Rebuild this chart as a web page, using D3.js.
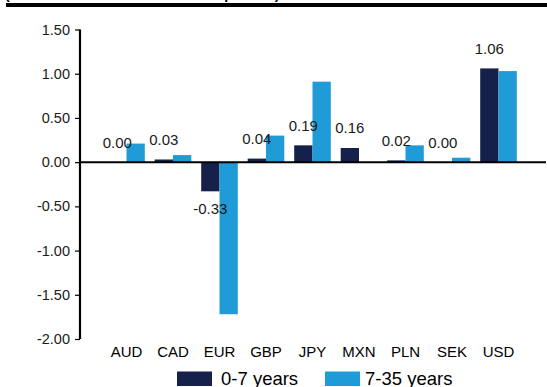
<!DOCTYPE html>
<html>
<head>
<meta charset="utf-8">
<script src="https://cdn.jsdelivr.net/npm/d3@7"></script>
<style>
  html, body { margin: 0; padding: 0; background: #fff; }
  svg { display: block; font-family: "Liberation Sans", Arial, sans-serif; }
</style>
</head>
<body>
<svg id="chart" width="547" height="387"></svg>
<script>
// Currency contributions, two maturity buckets
const currencies = ["AUD", "CAD", "EUR", "GBP", "JPY", "MXN", "PLN", "SEK", "USD"];
const shortBucket = [0.00, 0.03, -0.33, 0.04, 0.19, 0.16, 0.02, 0.00, 1.06];
const longBucket  = [0.21, 0.08, -1.72, 0.30, 0.91, 0.00, 0.19, 0.05, 1.03];
const seriesNames = ["0-7 years", "7-35 years"];
const yTicks = [1.5, 1.0, 0.5, 0.0, -0.5, -1.0, -1.5, -2.0];

const colors = ["#15214b", "#1f9bd7"];

// two decimals, plain hyphen for negatives
const fmt = v => d3.format(".2f")(v).replace("\u2212", "-");

const svg = d3.select("#chart");

// Header rule with the subtitle sitting above the top edge
svg.append("text")
  .attr("x", 5).attr("y", -1.5)
  .attr("font-size", 14).attr("font-weight", "bold")
  .attr("fill", "#000")
  .text("(Contribution to total duration in percent)");
svg.append("rect")
  .attr("x", 6).attr("y", 3).attr("width", 541).attr("height", 4)
  .attr("fill", "#000");

const y = d3.scaleLinear().domain([-2, 1.5]).range([339, 29.5]);
const x = d3.scalePoint().domain(currencies).range([80, 545]).padding(1);
const barW = 18.3;

// Y axis
const yAxis = d3.axisLeft(y)
  .tickValues(yTicks)
  .tickSize(5)
  .tickPadding(5)
  .tickFormat(fmt);
const gy = svg.append("g").attr("transform", "translate(80,0)").call(yAxis);
gy.select(".domain").attr("stroke", "#000").attr("stroke-width", 2.2)
  .attr("d", `M0,${y(1.5)}V${y(-2)}`);
gy.selectAll(".tick line").attr("stroke", "#000").attr("stroke-width", 1.2);
gy.selectAll(".tick text")
  .attr("font-size", 14.5)
  .attr("fill", "#1a1a1a")
  .attr("font-family", "Liberation Sans, Arial, sans-serif");

// Bars
const rows = currencies.map((c, i) => ({ c, vals: [shortBucket[i], longBucket[i]] }));
const g = svg.append("g");
rows.forEach(r => {
  r.vals.forEach((v, k) => {
    if (v === 0) return;
    const x0 = x(r.c) + (k === 0 ? -barW : 0);
    g.append("rect")
      .attr("x", x0)
      .attr("y", Math.min(y(v), y(0)))
      .attr("width", barW)
      .attr("height", Math.abs(y(v) - y(0)))
      .attr("fill", colors[k]);
  });
});

// Zero line
svg.append("line")
  .attr("x1", 80).attr("x2", 546)
  .attr("y1", y(0)).attr("y2", y(0))
  .attr("stroke", "#000").attr("stroke-width", 2);

// Value labels for the short bucket
rows.forEach(r => {
  const v = r.vals[0];
  const cx = x(r.c) - barW / 2;
  svg.append("text")
    .attr("x", cx)
    .attr("y", v >= 0 ? y(v) - 14.5 : y(v) + 23)
    .attr("text-anchor", "middle")
    .attr("font-size", 15)
    .attr("fill", "#1a1a1a")
    .text(fmt(v));
});

// Category labels
currencies.forEach(c => {
  svg.append("text")
    .attr("x", x(c))
    .attr("y", 356.5)
    .attr("text-anchor", "middle")
    .attr("font-size", 15)
    .attr("fill", "#000")
    .text(c);
});

// Legend
const legendX = [177, 325];
seriesNames.forEach((name, k) => {
  svg.append("rect")
    .attr("x", legendX[k]).attr("y", 371.5)
    .attr("width", 35).attr("height", 14.5)
    .attr("fill", colors[k]);
  svg.append("text")
    .attr("x", legendX[k] + 44 - (k === 1 ? 4 : 0))
    .attr("y", 385)
    .attr("font-size", 18.5)
    .attr("fill", "#000")
    .text(name);
});
</script>
</body>
</html>
